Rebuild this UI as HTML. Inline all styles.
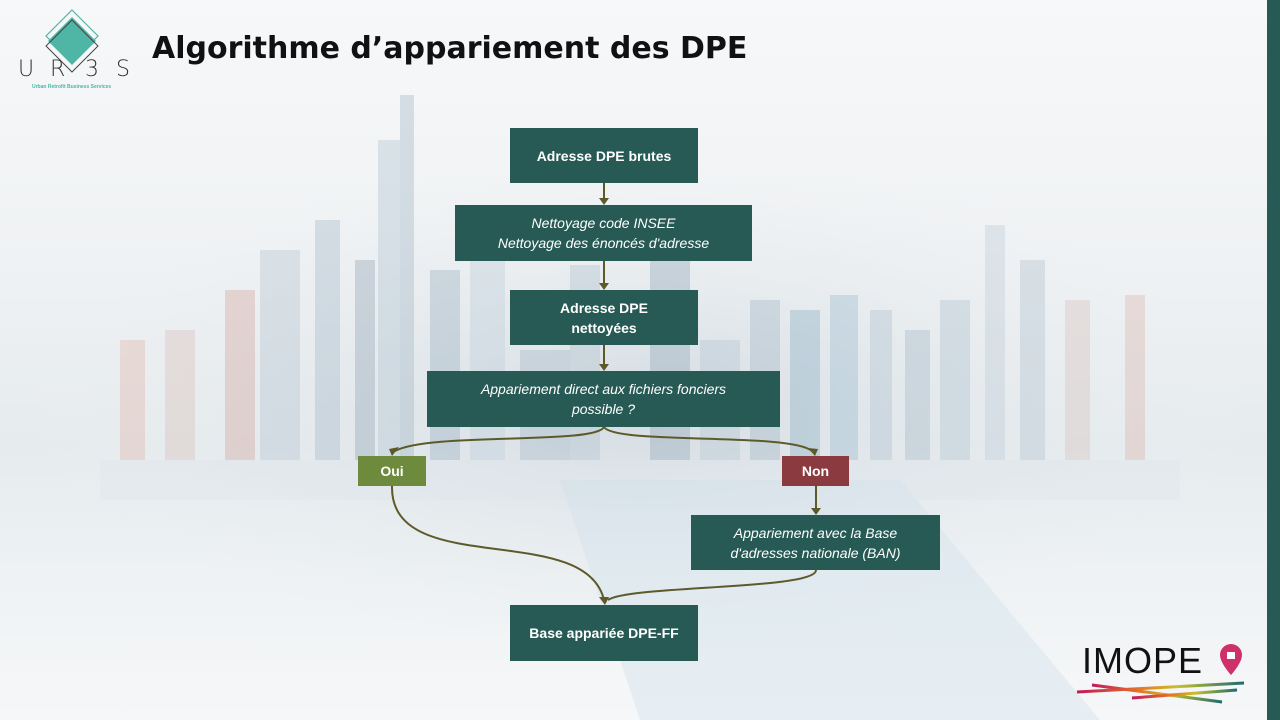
<!DOCTYPE html>
<html><head><meta charset="utf-8"><style>
body{margin:0;width:1280px;height:720px;overflow:hidden;font-family:"Liberation Sans",sans-serif;}
#c{position:relative;width:1280px;height:720px;background:linear-gradient(180deg,#f7f8f9 0%,#eef1f3 40%,#e6ebee 62%,#eef2f4 80%,#f6f7f8 100%);}
.b{position:absolute;background:#275a54;color:#fff;display:flex;align-items:center;justify-content:center;text-align:center;font-size:14px;line-height:20px;}
.bd{font-weight:bold;}
.it{font-style:italic;}
.u{position:absolute;top:57px;font-size:22px;color:#333;font-family:"DejaVu Sans",sans-serif;font-weight:200;}
</style></head><body><div id="c">
<svg width="1280" height="720" style="position:absolute;left:0;top:0">
<defs><radialGradient id="g" cx="0.5" cy="0.55" r="0.5"><stop offset="0" stop-color="#cfd8df" stop-opacity="0.8"/><stop offset="1" stop-color="#eef1f3" stop-opacity="0"/></radialGradient></defs>
<ellipse cx="640" cy="380" rx="620" ry="260" fill="url(#g)"/>
<g opacity="0.4">
<rect x="120" y="340" width="25" height="120" fill="#e0b8ad"/>
<rect x="165" y="330" width="30" height="130" fill="#d9c2bc"/>
<rect x="225" y="290" width="30" height="170" fill="#d4a9a2"/>
<rect x="260" y="250" width="40" height="210" fill="#b9c7d3"/>
<rect x="315" y="220" width="25" height="240" fill="#a9bccb"/>
<rect x="355" y="260" width="20" height="200" fill="#98a9b8"/>
<rect x="378" y="140" width="32" height="320" fill="#b3c6d3"/>
<rect x="400" y="95" width="14" height="365" fill="#a5b9c8"/>
<rect x="430" y="270" width="30" height="190" fill="#9eb3c3"/>
<rect x="470" y="240" width="35" height="220" fill="#c2d1dc"/>
<rect x="520" y="350" width="50" height="110" fill="#a9bccb"/>
<rect x="570" y="265" width="30" height="195" fill="#b2c3cf"/>
<rect x="650" y="260" width="40" height="200" fill="#95aabb"/>
<rect x="700" y="340" width="40" height="120" fill="#b7c7d3"/>
<rect x="750" y="300" width="30" height="160" fill="#a6b9c7"/>
<rect x="790" y="310" width="30" height="150" fill="#8fb1c6"/>
<rect x="830" y="295" width="28" height="165" fill="#9fbdd0"/>
<rect x="870" y="310" width="22" height="150" fill="#b3c4d0"/>
<rect x="905" y="330" width="25" height="130" fill="#a8bac8"/>
<rect x="940" y="300" width="30" height="160" fill="#b2c4d1"/>
<rect x="985" y="225" width="20" height="235" fill="#c1cfda"/>
<rect x="1020" y="260" width="25" height="200" fill="#b5c5d1"/>
<rect x="1065" y="300" width="25" height="160" fill="#d8c5c0"/>
<rect x="1125" y="295" width="20" height="165" fill="#ddb9b0"/>
<rect x="100" y="460" width="1080" height="40" fill="#dfe6eb"/>
<polygon points="560,480 900,480 1100,720 640,720" fill="#cfe0ea"/>
</g>
<rect x="1267" y="0" width="13" height="720" fill="#275a54"/>
<g fill="none" stroke="#5d5a2a" stroke-width="2">
<line x1="604" y1="183" x2="604" y2="200"/>
<line x1="604" y1="261" x2="604" y2="285"/>
<line x1="604" y1="345" x2="604" y2="366"/>
<path d="M604,427 C595,445 430,432 395,451"/>
<path d="M604,427 C615,445 790,432 812,451"/>
<line x1="816" y1="486" x2="816" y2="510"/>
<path d="M392,486 C390,580 585,520 604,600"/>
<path d="M816,570 C816,590 630,585 608,600"/>
</g>
<g fill="#5d5a2a">
<polygon points="599,198 609,198 604,205"/>
<polygon points="599,283 609,283 604,290"/>
<polygon points="599,364 609,364 604,371"/>
<polygon points="389,449 399,447 392,456"/>
<polygon points="808,448 818,449 815,456"/>
<polygon points="811,508 821,508 816,515"/>
<polygon points="599,597 609,597 605,605"/>
</g>
<polygon points="72,10 98,36 72,62 46,36" fill="none" stroke="#4fb5a5" stroke-width="1.2"/>
<polygon points="72,17 96,41 72,65 48,41" fill="#4fb5a5"/>
<polygon points="72,20 98,46 72,72 46,46" fill="none" stroke="#444" stroke-width="1"/>
</svg>
<div class="u" style="left:18px">U</div>
<div class="u" style="left:50px">R</div>
<div class="u" style="left:85px">3</div>
<div class="u" style="left:116px">S</div>
<div style="position:absolute;left:32px;top:84px;font-size:5px;color:#4fb5a5;font-weight:bold">Urban Retrofit Business Services</div>
<div style="position:absolute;left:152px;top:31px;font-size:30px;color:#111;font-weight:bold;font-family:'DejaVu Sans','Liberation Sans',sans-serif;">Algorithme d’appariement des DPE</div>
<div class="b bd" style="left:510px;top:128px;width:188px;height:55px">Adresse DPE brutes</div>
<div class="b it" style="left:455px;top:205px;width:297px;height:56px">Nettoyage code INSEE<br>Nettoyage des énoncés d'adresse</div>
<div class="b bd" style="left:510px;top:290px;width:188px;height:55px">Adresse DPE<br>nettoyées</div>
<div class="b it" style="left:427px;top:371px;width:353px;height:56px">Appariement direct aux fichiers fonciers<br>possible ?</div>
<div class="b bd" style="left:358px;top:456px;width:68px;height:30px;background:#6e8b3d">Oui</div>
<div class="b bd" style="left:782px;top:456px;width:67px;height:30px;background:#8b3a3f">Non</div>
<div class="b it" style="left:691px;top:515px;width:249px;height:55px">Appariement avec la Base<br>d'adresses nationale (BAN)</div>
<div class="b bd" style="left:510px;top:605px;width:188px;height:56px">Base appariée DPE-FF</div>
<div style="position:absolute;left:1082px;top:640px;font-size:36px;color:#111;letter-spacing:1px">IMOPE</div>
<svg width="40" height="50" style="position:absolute;left:1212px;top:640px"><path d="M19,4 a11,11 0 0 1 11,11 c0,8 -11,20 -11,20 c0,0 -11,-12 -11,-20 a11,11 0 0 1 11,-11z" fill="#d0306a"/><rect x="15" y="12" width="8" height="7" fill="#fff"/></svg>
<svg width="180" height="30" style="position:absolute;left:1072px;top:680px"><defs><linearGradient id="r"><stop offset="0" stop-color="#c2185b"/><stop offset="0.4" stop-color="#e67e22"/><stop offset="0.6" stop-color="#c8c02a"/><stop offset="1" stop-color="#1d6a70"/></linearGradient></defs><g stroke="url(#r)" stroke-width="3"><line x1="5" y1="12" x2="172" y2="3"/><line x1="20" y1="5" x2="150" y2="22"/><line x1="60" y1="18" x2="165" y2="10"/></g></svg>
</div></body></html>
